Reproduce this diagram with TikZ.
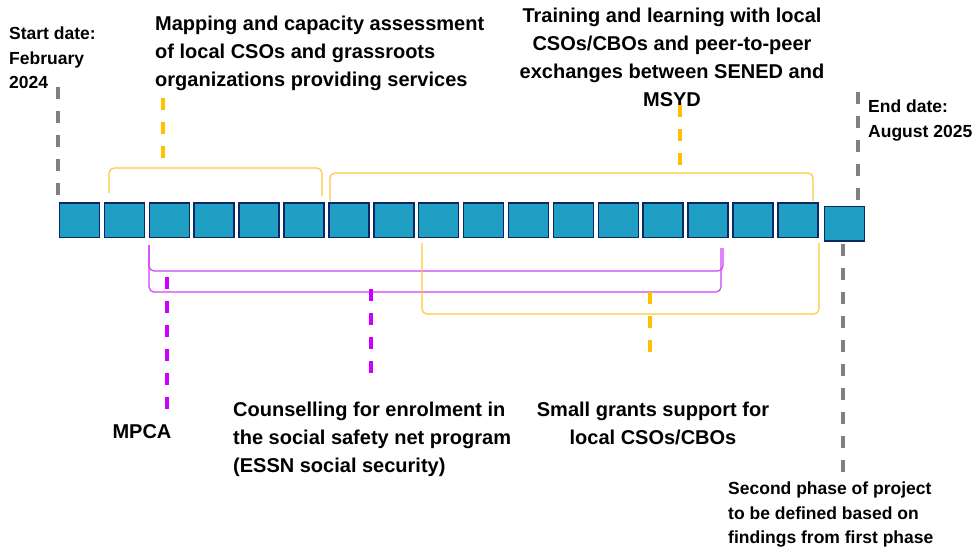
\documentclass[tikz,border=0pt]{standalone}
\usepackage{fontspec}
\setmainfont{Liberation Sans}
\usepackage{xcolor}
\definecolor{boxfill}{HTML}{1F9FC4}
\definecolor{boxline}{HTML}{0B2766}
\definecolor{gold}{HTML}{FFC000}
\definecolor{goldline}{HTML}{FFC83A}
\definecolor{purp}{HTML}{CC00FF}
\definecolor{purpline}{HTML}{D040F5}
\definecolor{leadgray}{HTML}{808080}

\begin{document}
\begin{tikzpicture}[x=1pt,y=-1pt,
  blk/.style={draw=boxline, fill=boxfill, line width=1.5pt, minimum width=40pt, minimum height=34.5pt, inner sep=0pt},
  brk/.style={line width=1.2pt, rounded corners=5pt},
  lead/.style={line width=3.6pt, dash pattern=on 12pt off 12pt},
  big/.style={font=\bfseries\fontsize{20}{28}\selectfont, inner sep=0pt},
  small/.style={font=\bfseries\fontsize{17.5}{24.5}\selectfont, inner sep=0pt}]
\useasboundingbox (0,0) rectangle (976,551);

\foreach \i in {0,...,16}
  \node[blk] (b\i) at ({79.5+44.9*\i},220) {};
\node[blk] (b17) at (844.5,223.5) {};

\node[small, anchor=north west, align=left] (start) at (9,27) {Start date:\\February\\2024};
\node[small, anchor=north west, align=left] (end) at (868,100) {End date:\\August 2025};
\node[big, anchor=north west, align=left] (map) at (155,16) {Mapping and capacity assessment\\of local CSOs and grassroots\\organizations providing services};
\node[big, anchor=north, align=center] (train) at (672,8) {Training and learning with local\\CSOs/CBOs and peer-to-peer\\exchanges between SENED and\\MSYD};
\node[big] (mpca) at (142,432) {MPCA};
\node[big, anchor=north west, align=left] (couns) at (233,402) {Counselling for enrolment in\\the social safety net program\\(ESSN social security)};
\node[big, anchor=north, align=center] (grants) at (653,402) {Small grants support for\\local CSOs/CBOs};
\node[small, anchor=north west, align=left] (second) at (728,482) {Second phase of project\\to be defined based on\\findings from first phase};

\draw[brk,goldline] (109,193) -- (109,168) -- (322,168) -- (322,196);
\draw[brk,goldline] (330,201) -- (330,173) -- (813,173) -- (813,201);
\draw[brk,purpline] (149,245) -- (149,271) -- (723,271) -- (723,248);
\draw[brk,purpline] (149,245) -- (149,292) -- (721,292) -- (721,248);
\draw[brk,goldline] (422,243) -- (422,314) -- (819,314) -- (819,243);

\coordinate (s1) at (58,87);
\coordinate (s2) at (58,195);
\coordinate (e1) at (858,92);
\coordinate (e2) at (858,200);
\coordinate (f1) at (843,244);
\coordinate (f2) at (843,472);
\coordinate (m1) at (163,98);
\coordinate (m2) at (163,158);
\coordinate (t1) at (680,105);
\coordinate (t2) at (680,165);
\coordinate (p1) at (167,277);
\coordinate (p2) at (167,409);
\coordinate (c1) at (371,289);
\coordinate (c2) at (371,373);
\coordinate (g1) at (650,292);
\coordinate (g2) at (650,352);

\draw[lead,leadgray] (s1) -- (s2);
\draw[lead,leadgray] (e1) -- (e2);
\draw[lead,leadgray] (f1) -- (f2);
\draw[lead,gold] (m1) -- (m2);
\draw[lead,gold] (t1) -- (t2);
\draw[lead,purp] (p1) -- (p2);
\draw[lead,purp] (c1) -- (c2);
\draw[lead,gold] (g1) -- (g2);
\end{tikzpicture}
\end{document}
